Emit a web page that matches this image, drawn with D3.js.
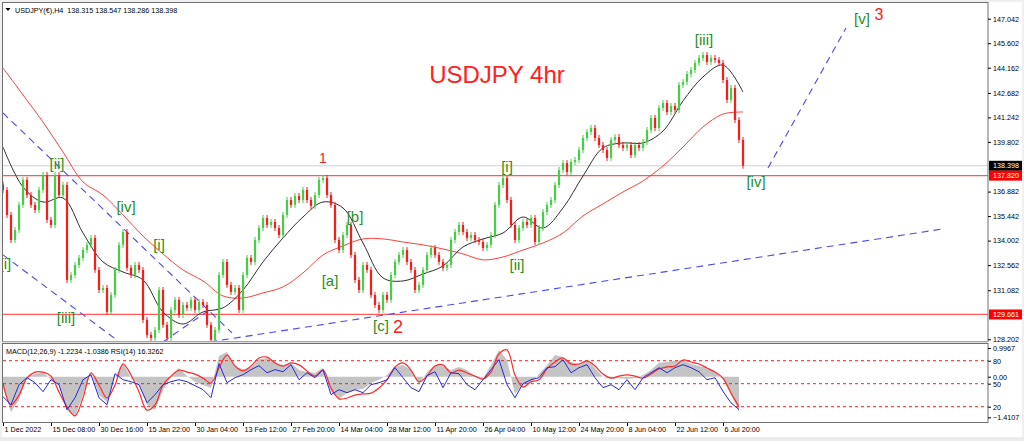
<!DOCTYPE html>
<html>
<head>
<meta charset="utf-8">
<script src="https://cdn.jsdelivr.net/npm/d3@7"></script>
<style>
  body { margin: 0; background: #f0f0f0; }
  svg { display: block; font-family: "Liberation Sans", Arial, sans-serif; }
</style>
</head>
<body>
<svg id="chart" width="1024" height="441"></svg>
<script>
// ---- data ----
// H4 closes, one value per 4 bars (bar index = position in array)
const firstOpen = 137.30;
const closes = [
  136.98, 135.51, 134.04, 134.63, 136.10, 137.57, 136.68, 136.10, 135.80, 136.98,
  137.86, 135.22, 134.92, 137.86, 136.68, 137.27, 131.69, 131.98, 132.57, 132.98,
  133.45, 133.75, 134.16, 132.28, 131.10, 131.22, 129.81, 130.81, 132.28, 133.75,
  134.51, 132.40, 131.98, 132.57, 132.28, 129.34, 128.46, 128.28, 128.75, 131.10,
  129.05, 128.28, 129.93, 130.52, 129.63, 130.22, 130.05, 130.52, 129.93, 130.40,
  130.22, 129.05, 128.17, 128.75, 131.98, 132.75, 131.40, 130.99, 131.22, 129.93,
  131.98, 132.98, 132.75, 134.04, 134.74, 135.33, 134.92, 135.10, 134.74, 134.33,
  135.51, 136.39, 136.10, 136.63, 136.39, 136.98, 136.39, 136.04, 136.68, 137.57,
  137.68, 136.68, 136.10, 134.04, 133.45, 134.33, 134.92, 133.16, 131.69, 131.10,
  132.57, 132.28, 130.81, 130.22, 129.93, 130.81, 130.52, 131.98, 132.75, 133.16,
  133.45, 132.75, 132.28, 131.10, 131.40, 132.28, 133.16, 133.57, 133.16, 132.75,
  132.40, 132.57, 134.04, 134.51, 134.92, 134.51, 134.16, 134.33, 134.04, 133.92,
  133.57, 133.75, 134.33, 136.10, 137.27, 137.68, 136.39, 134.92, 134.04, 134.74,
  135.10, 134.92, 135.33, 133.92, 134.74, 135.68, 136.10, 136.39, 137.27, 138.15,
  138.56, 138.03, 138.62, 138.74, 139.33, 140.03, 140.39, 140.62, 140.03, 139.62,
  139.33, 138.86, 139.92, 140.09, 139.62, 139.45, 139.62, 139.03, 139.62, 139.45,
  139.80, 140.50, 141.21, 140.62, 141.80, 142.09, 141.56, 141.91, 141.68, 143.15,
  143.32, 143.79, 144.03, 144.44, 144.73, 144.91, 144.50, 144.73, 144.62, 144.44,
  143.44, 142.27, 142.97, 141.09, 139.92, 138.40
];

// moving averages, one value every 5 candles
const maStep = 5;
const maBlack = [
  139.50, 137.15, 136.27, 136.51, 134.45, 132.75, 132.16, 131.69, 129.81, 129.10,
  129.81, 130.05, 131.10, 132.75, 134.16, 135.39, 136.27, 135.92, 133.86, 131.81,
  131.63, 132.04, 132.51, 133.63, 134.10, 134.45, 135.39, 134.74, 135.92, 137.80,
  139.45, 139.74, 139.74, 140.44, 142.21, 143.62, 144.32, 142.73
];
const maRed = [
  144.15, 142.56, 140.97, 139.21, 137.45, 136.68, 135.51, 134.27, 133.22, 132.28,
  131.63, 130.75, 130.63, 130.93, 131.28, 132.10, 133.16, 133.69, 134.10, 134.10,
  133.92, 133.75, 133.51, 133.22, 132.87, 133.04, 133.45, 133.86, 134.45, 135.45,
  136.16, 136.86, 137.51, 138.39, 139.50, 140.68, 141.44, 141.56
];

// indicator window, one value every 2 candles
const indStep = 2;
const macdMain = [
  -0.39, -1.23, -0.81, 0.02, 0.09, 0.16, -0.11, -0.29, -1.16, -1.40,
  -0.64, 0.13, -0.64, -0.88, -0.01, 0.51, -0.05, -0.25, -0.98, -1.16,
  -0.46, -0.01, 0.30, 0.02, -0.18, -0.29, -0.39, 0.72, 0.86, 0.34,
  0.27, 0.30, 0.61, 0.65, 0.48, 0.41, 0.48, 0.23, 0.16, 0.13,
  0.30, -0.53, -0.77, -0.57, -0.46, -0.43, -0.22, -0.11, 0.06, 0.34,
  0.41, 0.23, -0.25, 0.16, 0.41, 0.37, 0.23, 0.34, 0.23, 0.02,
  -0.05, 0.41, 0.93, 0.58, -0.60, -0.29, -0.22, 0.09, 0.41, 0.75,
  0.68, 0.51, 0.44, 0.58, 0.30, -0.01, -0.08, -0.05, -0.08, -0.05,
  0.06, 0.23, 0.48, 0.51, 0.55, 0.58, 0.44, 0.37, 0.30, 0.16,
  -0.10, -0.60, -1.22
];
const macdSignal = [
  -0.22, -0.98, -0.64, -0.05, 0.16, 0.16, 0.02, -0.53, -1.05, -1.36,
  -0.74, 0.13, -0.29, -0.74, -0.29, 0.44, 0.06, -0.53, -1.16, -0.98,
  -0.29, 0.02, 0.23, 0.16, 0.09, -0.05, -0.22, 0.30, 0.75, 0.37,
  0.20, 0.37, 0.65, 0.68, 0.48, 0.37, 0.48, 0.41, 0.20, 0.02,
  0.23, -0.39, -0.77, -0.74, -0.64, -0.60, -0.57, -0.39, -0.11, 0.34,
  0.48, 0.23, -0.18, 0.02, 0.37, 0.41, 0.13, 0.23, 0.13, 0.02,
  -0.08, 0.16, 0.79, 0.93, 0.06, -0.36, -0.18, -0.11, 0.27, 0.51,
  0.65, 0.44, 0.44, 0.55, 0.37, 0.09, -0.05, 0.02, 0.06, 0.02,
  -0.05, 0.09, 0.27, 0.34, 0.37, 0.58, 0.51, 0.44, 0.30, 0.16,
  -0.05, -0.57, -1.04
];
const rsi = [
  33.0, 22.6, 48.7, 57.8, 51.3, 39.6, 55.2, 48.7, 16.1, 31.7,
  55.2, 61.7, 31.7, 22.6, 63.0, 55.2, 52.6, 48.7, 25.2, 35.7,
  48.7, 52.6, 55.2, 52.6, 47.4, 42.2, 31.7, 76.1, 51.3, 57.8,
  61.7, 68.3, 73.5, 64.3, 68.3, 65.6, 74.8, 55.2, 64.3, 57.8,
  68.3, 35.7, 42.2, 38.3, 42.2, 38.3, 48.7, 51.3, 55.2, 70.9,
  57.8, 44.8, 39.6, 60.4, 65.6, 44.8, 64.3, 63.0, 48.7, 42.2,
  55.2, 68.3, 81.3, 48.7, 31.7, 50.0, 55.2, 57.8, 70.9, 72.2,
  81.3, 64.3, 70.9, 74.8, 57.8, 44.8, 48.7, 42.2, 55.2, 42.2,
  57.8, 64.3, 70.9, 64.3, 70.9, 74.8, 70.9, 65.6, 55.2, 57.8,
  40.0, 25.0, 16.3
];
const rsiLevels = [80, 50, 20];

// horizontal levels and price tags
const levelLines = [137.820, 129.661];
const bidPrice = 138.398;
const priceTicks = [147.042, 145.602, 144.162, 142.682, 141.242, 139.802,
                    136.882, 135.442, 134.002, 132.562, 131.082, 128.202];

// trend lines as [barIndex, price] pairs
const trendLines = [
  [[0, 141.50], [57.25, 128.58]],
  [[0, 133.16], [28.75, 128.11]],
  [[40, 128.05], [52.25, 130.04]],
  [[51.75, 128.05], [235, 134.69]],
  [[191.25, 138.27], [210.75, 146.50]]
];

// wave labels: text, bar index, price (baseline)
const waveLabels = [
  ["[i]", 0.6, 132.34], ["[ii]", 13.5, 138.21], ["[iii]", 15.75, 129.16],
  ["[iv]", 30.75, 135.68], ["[i]", 39, 133.45], ["[a]", 81.75, 131.34],
  ["[b]", 88, 135.10], ["[c]", 94.5, 128.69], ["[i]", 126, 138.04],
  ["[ii]", 128.5, 132.28], ["[iii]", 175.25, 145.50], ["[iv]", 188.25, 137.15],
  ["[v]", 214.75, 146.73]
];
const degreeLabels = [["1", 80, 138.56, 14], ["2", 98.75, 128.58, 18], ["3", 219, 146.97, 16]];

// time axis
const dateTickIdx = [0, 12, 24, 36, 48, 60, 72, 84, 96, 108, 120, 132, 144, 156, 168, 180];
const dateLabels = ["1 Dec 2022", "15 Dec 08:00", "30 Dec 16:00", "15 Jan 22:00", "30 Jan 04:00",
  "13 Feb 12:00", "27 Feb 20:00", "14 Mar 04:00", "28 Mar 12:00", "11 Apr 20:00",
  "26 Apr 04:00", "10 May 12:00", "24 May 20:00", "8 Jun 04:00", "22 Jun 12:00", "6 Jul 20:00"];

// ---- layout ----
const L = 3, R = 988, mainT = 3, mainB = 342, indT = 344, indB = 423;
const svg = d3.select("#chart");

const x = d3.scaleLinear().domain([0, 246.25]).range([L, R]);
const y = d3.scaleLinear().domain([128.202, 147.042]).range([339.3, 18.7]);
const macdY = d3.scaleLinear().domain([-1.4107, 0.9967]).range([417.3, 348.0]);
const rsiY = d3.scaleLinear().domain([20, 80]).range([406.7, 360.7]);

svg.append("rect").attr("x", 2).attr("y", 2).attr("width", 1020).attr("height", 435).attr("fill", "#fff");

const defs = svg.append("defs");
defs.append("clipPath").attr("id", "mainClip").append("rect")
  .attr("x", L).attr("y", mainT).attr("width", R - L).attr("height", mainB - mainT);
defs.append("clipPath").attr("id", "indClip").append("rect")
  .attr("x", L).attr("y", indT).attr("width", R - L).attr("height", indB - indT);

// ---- main window ----
const main = svg.append("g").attr("clip-path", "url(#mainClip)");

main.append("line").attr("x1", L).attr("x2", R).attr("y1", y(bidPrice)).attr("y2", y(bidPrice))
  .attr("stroke", "#d0d0d0").attr("stroke-width", 1);

main.selectAll(".level").data(levelLines).join("line")
  .attr("x1", L).attr("x2", R).attr("y1", d => y(d)).attr("y2", d => y(d))
  .attr("stroke", "#ff5a5a").attr("stroke-width", 1.3);

const maLine = d3.line().x((d, i) => x(i * maStep)).y(d => y(d)).curve(d3.curveCatmullRom);
main.append("path").attr("d", maLine(maRed)).attr("fill", "none").attr("stroke", "#ff4040").attr("stroke-width", 1);
main.append("path").attr("d", maLine(maBlack)).attr("fill", "none").attr("stroke", "#303030").attr("stroke-width", 1);

main.selectAll(".trend").data(trendLines).join("line")
  .attr("x1", d => x(d[0][0])).attr("y1", d => y(d[0][1]))
  .attr("x2", d => x(d[1][0])).attr("y2", d => y(d[1][1]))
  .attr("stroke", "#4a4af0").attr("stroke-width", 1.1).attr("stroke-dasharray", "7,5");

const bars = closes.map((c, i) => ({ i, o: i ? closes[i - 1] : firstOpen, c }));
const upCol = "#44d044", dnCol = "#ff1a1a";
const candles = main.append("g").selectAll("g").data(bars).join("g");
candles.append("line")
  .attr("x1", d => x(d.i)).attr("x2", d => x(d.i))
  .attr("y1", d => y(Math.max(d.o, d.c)) - 3).attr("y2", d => y(Math.min(d.o, d.c)) + 3)
  .attr("stroke", d => d.c >= d.o ? upCol : dnCol).attr("stroke-width", 1);
candles.append("rect")
  .attr("x", d => x(d.i) - 1.1).attr("width", 2.2)
  .attr("y", d => y(Math.max(d.o, d.c)))
  .attr("height", d => Math.max(1, Math.abs(y(d.o) - y(d.c))))
  .attr("fill", d => d.c >= d.o ? upCol : dnCol);

main.selectAll(".wave").data(waveLabels).join("text")
  .attr("x", d => x(d[1])).attr("y", d => y(d[2]))
  .attr("text-anchor", "middle").attr("font-size", 15)
  .attr("fill", "#1f8f1f").text(d => d[0]);

main.selectAll(".deg").data(degreeLabels).join("text")
  .attr("x", d => x(d[1])).attr("y", d => y(d[2]))
  .attr("text-anchor", "middle").attr("font-size", d => d[3])
  .attr("fill", "#ff2020").text(d => d[0]);

main.append("text").attr("x", x(123.5)).attr("y", y(143.27))
  .attr("text-anchor", "middle").attr("font-size", 24).attr("fill", "#ff2020")
  .text("USDJPY 4hr");

// header
svg.append("path").attr("d", "M5.5,8 L10.5,8 L8,11 Z").attr("fill", "#000");
svg.append("text").attr("x", 15).attr("y", 12.5).attr("font-size", 7.2).attr("fill", "#000")
  .style("white-space", "pre").text("USDJPY(€),H4  138.315 138.547 138.286 138.398");

// ---- indicator window ----
const ind = svg.append("g").attr("clip-path", "url(#indClip)");
const zeroY = macdY(0);
const histArea = d3.area().x((d, i) => x(i * indStep)).y0(zeroY).y1(d => macdY(d));
ind.append("path").attr("d", histArea(macdMain)).attr("fill", "#c4c4c4");

ind.selectAll(".lvl").data(rsiLevels).join("line")
  .attr("x1", L).attr("x2", R).attr("y1", d => rsiY(d)).attr("y2", d => rsiY(d))
  .attr("stroke", "#ff2020").attr("stroke-width", 1).attr("stroke-dasharray", "3,3");

const sigLine = d3.line().x((d, i) => x(i * indStep)).y(d => macdY(d)).curve(d3.curveCatmullRom);
ind.append("path").attr("d", sigLine(macdSignal)).attr("fill", "none")
  .attr("stroke", "#ff2a2a").attr("stroke-width", 1.2);

const rsiLine = d3.line().x((d, i) => x(i * indStep)).y(d => rsiY(d));
ind.append("path").attr("d", rsiLine(rsi)).attr("fill", "none")
  .attr("stroke", "#2828d8").attr("stroke-width", 1);

svg.append("text").attr("x", 6).attr("y", 354).attr("font-size", 7.2).attr("fill", "#000")
  .text("MACD(12,26,9) -1.2234 -1.0386 RSI(14) 16.3262");

// ---- frames ----
svg.append("rect").attr("x", L - 0.5).attr("y", mainT - 0.5).attr("width", R - L + 0.5).attr("height", mainB - mainT)
  .attr("fill", "none").attr("stroke", "#707070");
svg.append("rect").attr("x", L - 0.5).attr("y", mainB - 0.5).attr("width", R - L + 0.5).attr("height", indT - mainB)
  .attr("fill", "#dcdcdc");
svg.append("rect").attr("x", L - 0.5).attr("y", indT - 0.5).attr("width", R - L + 0.5).attr("height", indB - indT)
  .attr("fill", "none").attr("stroke", "#707070");
svg.append("rect").attr("x", 0).attr("y", 437).attr("width", 1024).attr("height", 4).attr("fill", "#ececec");

// ---- axes ----
const priceAxis = svg.append("g").attr("transform", `translate(${R},0)`)
  .call(d3.axisRight(y).tickValues(priceTicks).tickSize(3).tickPadding(2).tickFormat(d3.format(".3f")));
priceAxis.select(".domain").remove();
priceAxis.selectAll("text").attr("font-size", 7.2).attr("font-family", "Liberation Sans, Arial");

const tags = [[bidPrice, "#000"], [levelLines[0], "#ff0000"], [levelLines[1], "#ff0000"]];
const tagG = svg.append("g").selectAll("g").data(tags).join("g")
  .attr("transform", d => `translate(${R + 1},${y(d[0])})`);
tagG.append("rect").attr("x", 0).attr("y", -5).attr("width", 33).attr("height", 10).attr("fill", d => d[1]);
tagG.append("text").attr("x", 4).attr("y", 2.6).attr("font-size", 7.2).attr("fill", "#fff")
  .text(d => d3.format(".3f")(d[0]));

const macdAxis = svg.append("g").attr("transform", `translate(${R},0)`)
  .call(d3.axisRight(macdY).tickValues([0.9967, 0, -1.4107]).tickSize(3).tickPadding(2)
    .tickFormat(d => d === 0 ? "0.00" : d3.format(".4f")(d)));
macdAxis.select(".domain").remove();
macdAxis.selectAll("text").attr("font-size", 7.2).attr("font-family", "Liberation Sans, Arial");

const rsiAxis = svg.append("g").attr("transform", `translate(${R},0)`)
  .call(d3.axisRight(rsiY).tickValues(rsiLevels).tickSize(3).tickPadding(2));
rsiAxis.select(".domain").remove();
rsiAxis.selectAll("text").attr("font-size", 7.2).attr("font-family", "Liberation Sans, Arial");

const timeAxis = svg.append("g").attr("transform", `translate(0,${indB})`)
  .call(d3.axisBottom(x).tickValues(dateTickIdx).tickSize(3).tickFormat((d, i) => dateLabels[i]));
timeAxis.select(".domain").remove();
timeAxis.selectAll("text").attr("font-size", 7.2).attr("font-family", "Liberation Sans, Arial")
  .attr("text-anchor", "start").attr("dx", 1).attr("y", 4).attr("dy", "0.71em");
</script>
</body>
</html>
